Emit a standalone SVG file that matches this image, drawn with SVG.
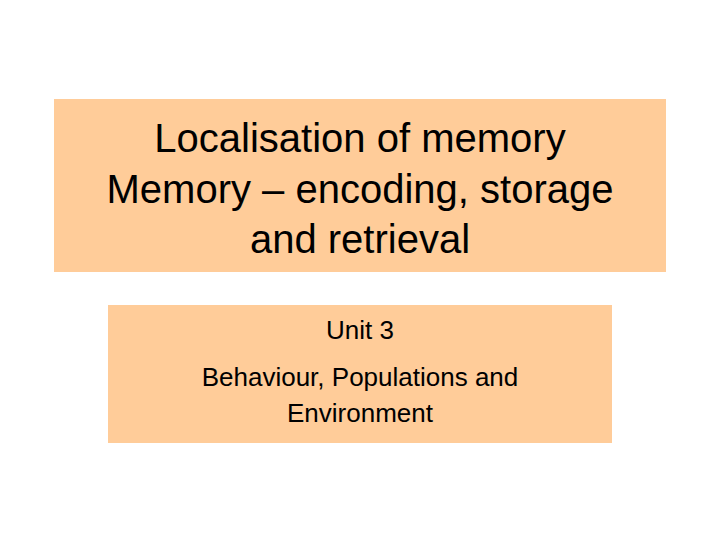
<svg xmlns="http://www.w3.org/2000/svg" width="720" height="540" viewBox="0 0 720 540">
<style>
.box{fill:#FFCC99}
.t{font-family:"Liberation Sans",Arial,sans-serif;fill:#000;text-anchor:middle}
.h{font-size:40px}
.s{font-size:26px}
</style>
<rect width="720" height="540" fill="#fff"/>
<g id="title">
<rect class="box" x="54" y="99" width="612" height="173"/>
<text class="t h" x="360" y="152">Localisation of memory</text>
<text class="t h" x="360" y="203">Memory – encoding, storage</text>
<text class="t h" x="360" y="253">and retrieval</text>
</g>
<g id="subtitle">
<rect class="box" x="108" y="305" width="504" height="138"/>
<text class="t s" x="360" y="339">Unit 3</text>
<text class="t s" x="360" y="386">Behaviour, Populations and</text>
<text class="t s" x="360" y="422">Environment</text>
</g>
</svg>
